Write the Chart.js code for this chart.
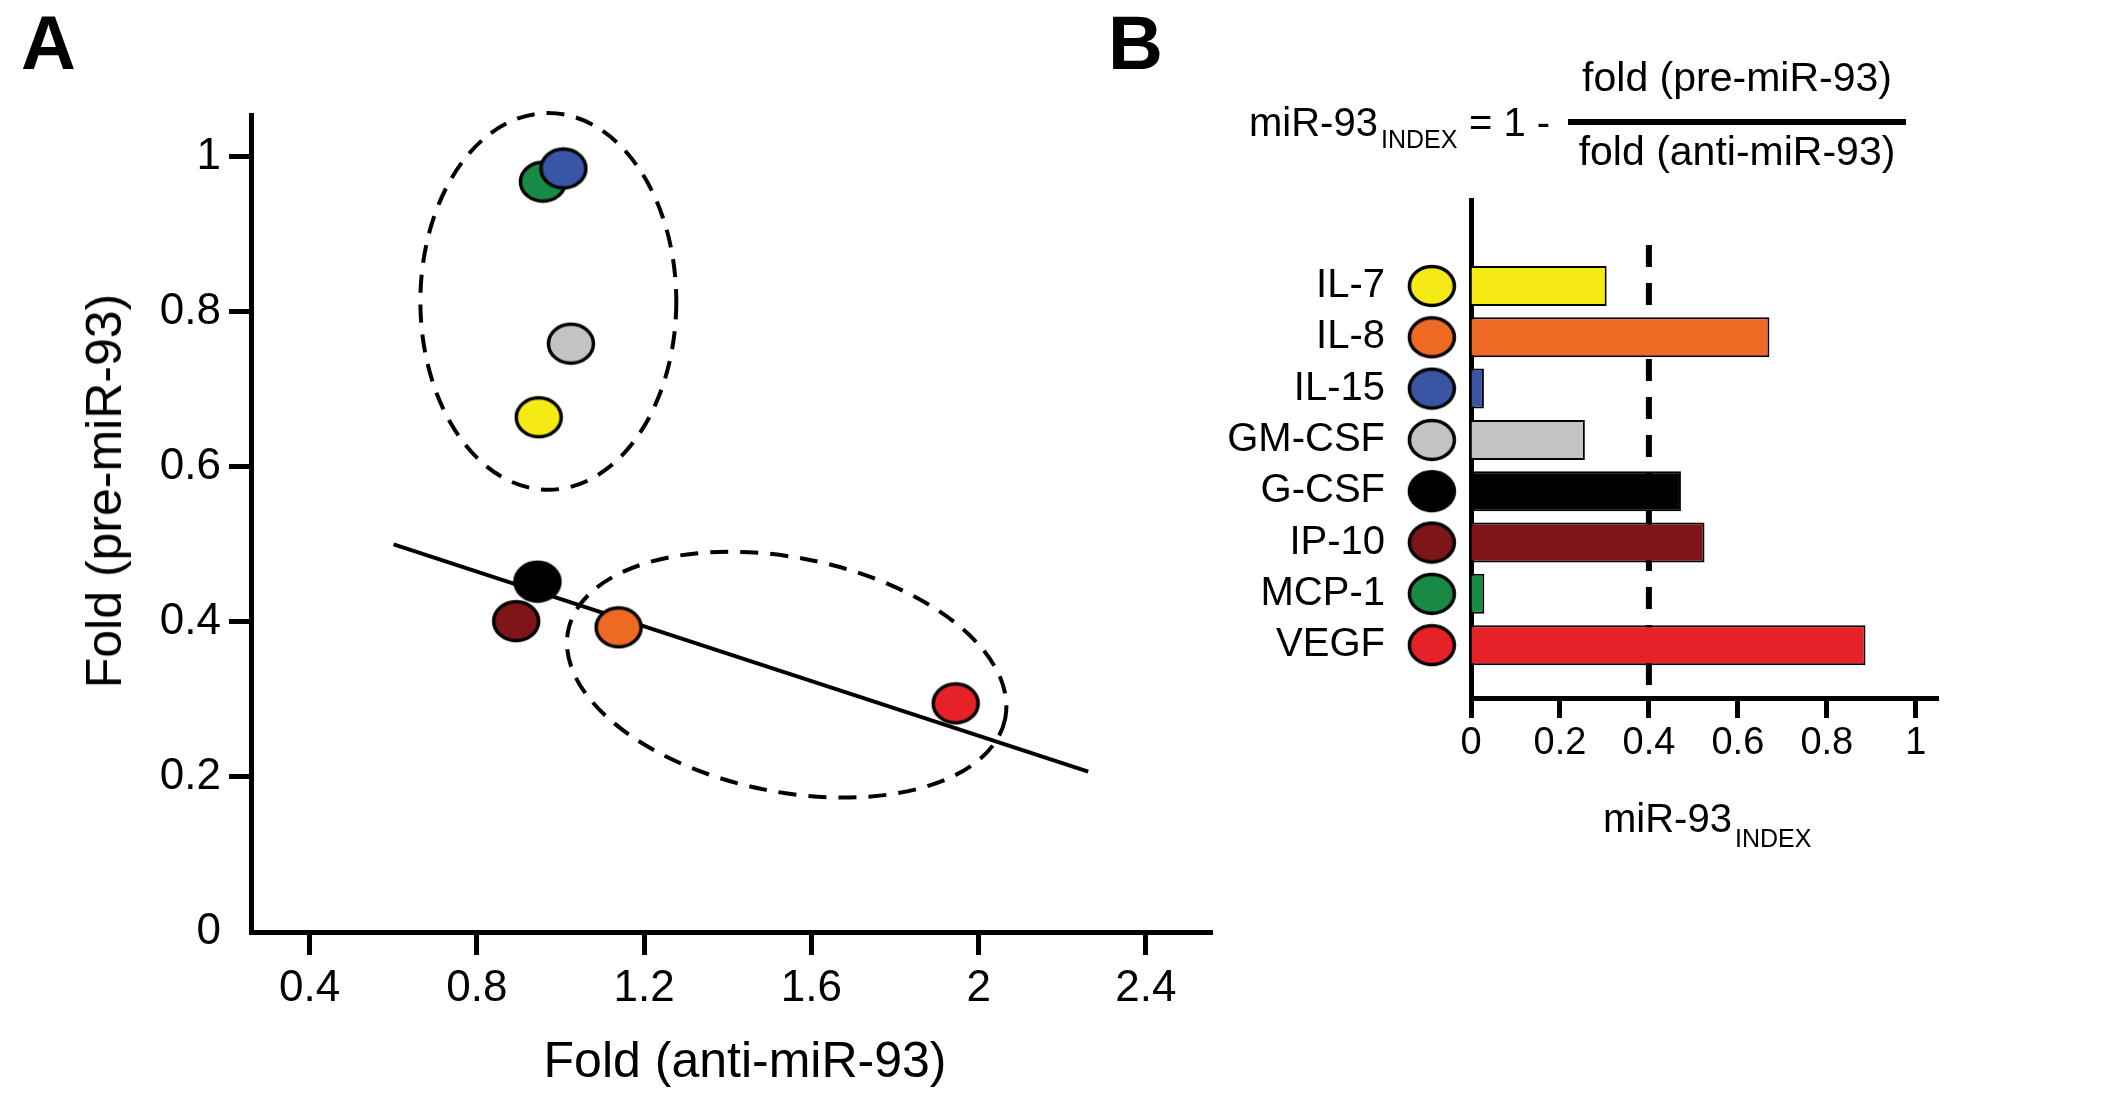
<!DOCTYPE html>
<html>
<head>
<meta charset="utf-8">
<script src="https://cdn.jsdelivr.net/npm/chart.js@4.4.1/dist/chart.umd.min.js"></script>
<style>
  html, body { margin: 0; padding: 0; background: #fff; }
  #page { position: relative; width: 2126px; height: 1098px; overflow: hidden;
          font-family: "Liberation Sans", Arial, sans-serif; color: #000; }
  #page canvas { position: absolute; top: 0; }
  .t { position: absolute; white-space: nowrap; line-height: 1; }
</style>
</head>
<body>
<div id="page">
  <canvas id="chart-a" width="1240" height="1098" style="left:0"></canvas>
  <canvas id="chart-b" width="976" height="1098" style="left:1150px"></canvas>
</div>
<script>
// cytokines, in the order of panel B (top to bottom)
const CYTOKINES = ["IL-7", "IL-8", "IL-15", "GM-CSF", "G-CSF", "IP-10", "MCP-1", "VEGF"];
const COLORS = ["#F5E916", "#EE6A24", "#3A55A4", "#C3C3C3", "#000000", "#7E1518", "#198A45", "#E62228"];

// panel A: fold change with anti-miR-93 (x) and pre-miR-93 (y)
const FOLD_ANTI = [0.948, 1.139, 1.007, 1.025, 0.945, 0.894, 0.958, 1.945];
const FOLD_PRE  = [0.664, 0.393, 0.985, 0.759, 0.452, 0.401, 0.968, 0.295];
// regression line end points
const FIT_X = [0.601, 2.262];
const FIT_Y = [0.500, 0.207];
// dashed group outlines (centre, radii in axis units, tilt in degrees)
const RING_CX = [0.971, 1.541];
const RING_CY = [0.8135, 0.332];
const RING_RX = [0.306, 0.533];
const RING_RY = [0.243, 0.151];
const RING_TILT = [0, 11.4];

const X_TICKS_A = [0.4, 0.8, 1.2, 1.6, 2, 2.4];
const Y_TICKS_A = [0, 0.2, 0.4, 0.6, 0.8, 1];

// panel B: miR-93 index
const MIR_INDEX = [0.305, 0.671, 0.029, 0.256, 0.472, 0.525, 0.030, 0.887];
const CUTOFF = 0.4;
const X_TICKS_B = [0, 0.2, 0.4, 0.6, 0.8, 1];

// which dot sits on top in panel A (higher = further back)
const STACK = [10, 10, 11, 10, 11, 12, 12, 10];

Chart.defaults.font.family = '"Liberation Sans", Arial, sans-serif';
Chart.defaults.color = "#000";

const page = document.getElementById("page");
const fmt = (v) => String(+Number(v).toFixed(2));

// oval marker with a black rim, used as a point style
function makeDot(color) {
  const c = document.createElement("canvas");
  c.width = 50; c.height = 44;
  const g = c.getContext("2d");
  g.beginPath();
  g.ellipse(25, 22, 22.5, 19.5, 0, 0, Math.PI * 2);
  g.fillStyle = color;
  g.fill();
  g.lineWidth = 3.5;
  g.strokeStyle = "#000";
  g.stroke();
  return c;
}
const dots = COLORS.map(makeDot);

function text(str, x, base, size, opts = {}) {
  const el = document.createElement("div");
  el.className = "t";
  el.textContent = str;
  el.style.fontSize = size + "px";
  if (opts.bold) el.style.fontWeight = "bold";
  el.style.top = (base - 0.8465 * size) + "px";
  el.style.left = x + "px";
  if (opts.center) el.style.transform = "translateX(-50%)";
  page.appendChild(el);
  return el;
}

const groupRings = {
  id: "groupRings",
  beforeDatasetsDraw(chart) {
    const { ctx, scales: { x, y } } = chart;
    const ux = Math.abs(x.getPixelForValue(1) - x.getPixelForValue(0));
    const uy = Math.abs(y.getPixelForValue(1) - y.getPixelForValue(0));
    ctx.save();
    ctx.strokeStyle = "#000";
    ctx.lineWidth = 4;
    ctx.setLineDash([18, 12]);
    RING_CX.forEach((cx, i) => {
      ctx.beginPath();
      ctx.ellipse(x.getPixelForValue(cx), y.getPixelForValue(RING_CY[i]),
        RING_RX[i] * ux, RING_RY[i] * uy, RING_TILT[i] * Math.PI / 180, 0, Math.PI * 2);
      ctx.stroke();
    });
    ctx.restore();
  },
};

new Chart(document.getElementById("chart-a"), {
  type: "scatter",
  data: {
    datasets: [
      ...CYTOKINES.map((name, i) => ({
        label: name,
        data: [{ x: FOLD_ANTI[i], y: FOLD_PRE[i] }],
        pointStyle: dots[i],
        pointRadius: 22,
        order: STACK[i],
      })),
      {
        label: "fit",
        data: FIT_X.map((x, i) => ({ x, y: FIT_Y[i] })),
        showLine: true,
        borderColor: "#000",
        borderWidth: 4,
        pointRadius: 0,
        order: 50,
      },
    ],
  },
  options: {
    responsive: false,
    animation: false,
    layout: { padding: { left: 0, top: 115, right: 28, bottom: 0 } },
    plugins: { legend: { display: false }, tooltip: { enabled: false } },
    scales: {
      x: {
        type: "linear", min: 0.26, max: 2.558,
        afterFit: (s) => { s.height = 166; },
        afterBuildTicks: (s) => { s.ticks = X_TICKS_A.map((v) => ({ value: v })); },
        border: { color: "#000", width: 5 },
        grid: { drawOnChartArea: false, color: "#000", tickLength: 23, tickWidth: 5 },
        ticks: { font: { size: 44 }, padding: 7, callback: fmt },
      },
      y: {
        type: "linear", min: 0, max: 1.054,
        afterFit: (s) => { s.width = 251; },
        afterBuildTicks: (s) => { s.ticks = Y_TICKS_A.map((v) => ({ value: v })); },
        border: { color: "#000", width: 5 },
        grid: {
          drawOnChartArea: false, tickLength: 22, tickWidth: 5,
          tickColor: (ctx) => (ctx.tick && ctx.tick.value === 0 ? "rgba(0,0,0,0)" : "#000"),
        },
        ticks: { font: { size: 44 }, padding: 8, callback: fmt },
      },
    },
  },
  plugins: [groupRings],
});

new Chart(document.getElementById("chart-b"), {
  type: "bar",
  data: {
    datasets: [
      {
        type: "scatter",
        label: "key",
        indexAxis: "y",
        data: CYTOKINES.map((_, i) => ({ x: -0.088, y: i })),
        pointStyle: dots,
        pointRadius: 90,
        clip: false,
        order: 0,
      },
      {
        type: "bar",
        label: "miR-93 index",
        indexAxis: "y",
        data: CYTOKINES.map((_, i) => ({ x: MIR_INDEX[i], y: i })),
        backgroundColor: COLORS,
        borderColor: "#000",
        borderWidth: 2,
        barPercentage: 0.78,
        categoryPercentage: 1,
        order: 1,
      },
      {
        type: "line",
        label: "cutoff",
        indexAxis: "y",
        data: [{ x: CUTOFF, y: -0.8 }, { x: CUTOFF, y: 7.84 }],
        borderColor: "#000",
        borderWidth: 6,
        borderDash: [22, 16],
        pointRadius: 0,
        order: 2,
      },
    ],
  },
  options: {
    indexAxis: "y",
    responsive: false,
    animation: false,
    layout: { padding: { left: 0, top: 200, right: 188, bottom: 0 } },
    plugins: { legend: { display: false }, tooltip: { enabled: false } },
    scales: {
      x: {
        type: "linear", min: 0, max: 1.05, offset: false,
        afterFit: (s) => { s.height = 400; },
        afterBuildTicks: (s) => { s.ticks = X_TICKS_B.map((v) => ({ value: v })); },
        border: { color: "#000", width: 5 },
        grid: { offset: false, drawOnChartArea: false, color: "#000", tickLength: 20, tickWidth: 5 },
        ticks: { font: { size: 38 }, padding: 3, callback: fmt },
      },
      y: {
        type: "linear", min: -1.676, max: 8.03, reverse: true, offset: false,
        afterFit: (s) => { s.width = 321; },
        afterBuildTicks: (s) => { s.ticks = CYTOKINES.map((_, i) => ({ value: i })); },
        border: { color: "#000", width: 5 },
        grid: { offset: false, display: false, drawTicks: false },
        ticks: { font: { size: 40 }, padding: 86, autoSkip: false, callback: (v) => CYTOKINES[v] },
      },
    },
  },
});

// panel letters
text("A", 21, 69, 76, { bold: true });
text("B", 1108, 69, 76, { bold: true });

// panel A axis titles
text("Fold (anti-miR-93)", 745, 1077, 50, { center: true });
const yTitle = document.createElement("div");
yTitle.className = "t";
yTitle.textContent = "Fold (pre-miR-93)";
yTitle.style.fontSize = "50px";
yTitle.style.left = "104px";
yTitle.style.top = "491px";
yTitle.style.transform = "translate(-50%, -50%) rotate(-90deg)";
page.appendChild(yTitle);

// panel B formula
text("miR-93", 1249, 136, 40);
text("INDEX", 1381, 148, 25);
text("= 1 -", 1469, 136, 40);
const bar = document.createElement("div");
bar.style.cssText = "position:absolute;left:1568px;top:119px;width:338px;height:6px;background:#000";
page.appendChild(bar);
text("fold (pre-miR-93)", 1737, 92, 41, { center: true });
text("fold (anti-miR-93)", 1737, 166, 41, { center: true });

// panel B axis title
text("miR-93", 1603, 832, 40);
text("INDEX", 1735, 847, 25);
</script>
</body>
</html>
